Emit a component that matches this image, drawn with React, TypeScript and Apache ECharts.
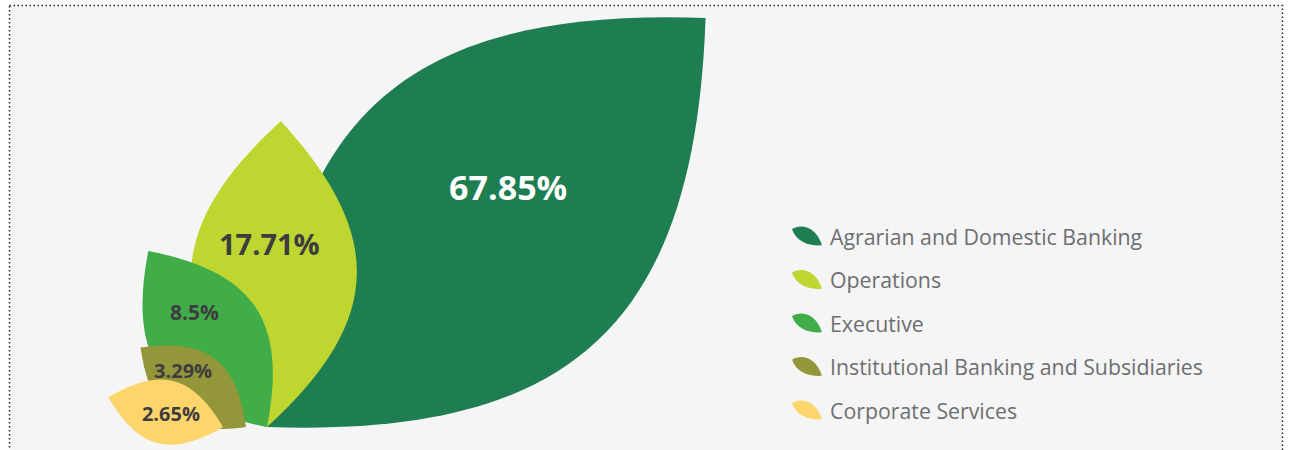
import React, { useEffect, useRef } from "react";
import * as echarts from "echarts";

// ---- data ----
const categories: string[] = [
  "Agrarian and Domestic Banking",
  "Operations",
  "Executive",
  "Institutional Banking and Subsidiaries",
  "Corporate Services",
];
const shares: number[] = [67.85, 17.71, 8.5, 3.29, 2.65];
const shareLabels: string[] = ["67.85%", "17.71%", "8.5%", "3.29%", "2.65%"];

// ---- styles / layout ----
const leafColors = ["#1f7d52", "#bed62f", "#41ad49", "#94963a", "#fed56a"];
const labelColors = ["#ffffff", "#3d3d3f", "#3d3d3f", "#3d3d3f", "#3d3d3f"];
const labelSizes = [34, 29, 21, 20, 20];
const leafAngles = [43, 87.4, 124, 143, 165.5]; // degrees, direction of leaf tip
const baseShiftX = [0, 0, 0, -21, -44]; // px offset of each leaf's stem
const labelFrac = [0.567, 0.6, 0.64, 0.64, 0.454];
const labelPerp = [-11, -6, 4, 7.6, 0];
const LEAF_ICON = "path://M1,4 C9,-1 23,1 29,19 C18,20 5,16 1,4 Z";
const LABEL_FONT = '"Open Sans", "Noto Sans", sans-serif';
const LEGEND_FONT = '"Open Sans", "Noto Sans", sans-serif';

function leafPath(bx: number, by: number, angDeg: number, L: number): string {
  const a = (angDeg * Math.PI) / 180;
  const ux = Math.cos(a);
  const uy = -Math.sin(a);
  const tx = bx + L * ux;
  const ty = by + L * uy;
  const h = 0.51 * L;
  const phi = Math.PI / 4;
  const rot = (x: number, y: number, t: number) => [
    x * Math.cos(t) - y * Math.sin(t),
    x * Math.sin(t) + y * Math.cos(t),
  ];
  const [d1x, d1y] = rot(ux, uy, phi);
  const [d2x, d2y] = rot(ux, uy, -phi);
  const f = (n: number) => n.toFixed(2);
  return (
    `M${f(bx)},${f(by)} ` +
    `C${f(bx + h * d1x)},${f(by + h * d1y)} ${f(tx - h * d2x)},${f(ty - h * d2y)} ${f(tx)},${f(ty)} ` +
    `C${f(tx - h * d1x)},${f(ty - h * d1y)} ${f(bx + h * d2x)},${f(by + h * d2y)} ${f(bx)},${f(by)} Z`
  );
}

function leafGeom(api: any, i: number, v: number) {
  const root = api.coord([0, 0]);
  const L = api.size([Math.sqrt(v), 0])[0];
  return { bx: root[0] + baseShiftX[i], by: root[1], L };
}

function makeLeafRender(i: number) {
  return (params: any, api: any) => {
    const { bx, by, L } = leafGeom(api, i, api.value(2));
    return {
      type: "path",
      shape: { pathData: leafPath(bx, by, leafAngles[i], L) },
      style: { fill: leafColors[i] },
    };
  };
}

function labelRender(params: any, api: any) {
  const i = params.dataIndex;
  const { bx, by, L } = leafGeom(api, i, api.value(2));
  const a = (leafAngles[i] * Math.PI) / 180;
  const ux = Math.cos(a);
  const uy = -Math.sin(a);
  const nx = Math.sin(a);
  const ny = Math.cos(a);
  const lx = bx + L * labelFrac[i] * ux + labelPerp[i] * nx;
  const ly = by + L * labelFrac[i] * uy + labelPerp[i] * ny;
  return {
    type: "text",
    x: lx,
    y: ly,
    style: {
      text: shareLabels[i],
      fill: labelColors[i],
      fontSize: labelSizes[i],
      fontWeight: "bold",
      fontFamily: LABEL_FONT,
      align: "center",
      verticalAlign: "middle",
    },
  };
}

export default function App() {
  const ref = useRef<HTMLDivElement>(null);
  useEffect(() => {
    if (!ref.current) return;
    const chart = echarts.init(ref.current, null, { renderer: "svg" });
    const option: any = {
      animation: false,
      backgroundColor: "#ffffff",
      graphic: [
        {
          type: "rect",
          z: 0,
          silent: true,
          shape: { x: 9.5, y: 5.5, width: 1273, height: 470 },
          style: { fill: "#f5f5f5", stroke: "#222", lineWidth: 1.5, lineDash: [1.5, 2.5] },
        },
      ],
      grid: { left: 267, right: 296, top: 20, bottom: 23 },
      xAxis: { type: "value", min: 0, max: 10, show: false },
      yAxis: { type: "value", min: 0, max: 10, show: false },
      legend: {
        orient: "vertical",
        left: 787,
        top: 220,
        itemWidth: 30,
        itemHeight: 19,
        itemGap: 21.5,
        selectedMode: false,
        data: categories.map((name, i) => ({
          name,
          icon: LEAF_ICON,
          itemStyle: { color: leafColors[i] },
        })),
        textStyle: {
          color: "#6d6e71",
          fontSize: 21.3,
          lineHeight: 22,
          fontFamily: LEGEND_FONT,
          padding: [0, 0, 0, 3],
        },
      },
      series: [
        ...categories.map((name, i) => ({
          type: "custom",
          name,
          coordinateSystem: "cartesian2d",
          clip: false,
          encode: { x: 0, y: 1 },
          itemStyle: { color: leafColors[i] },
          data: [[0, 0, shares[i]]],
          renderItem: makeLeafRender(i),
        })),
        {
          type: "custom",
          name: "labels",
          coordinateSystem: "cartesian2d",
          clip: false,
          z: 5,
          encode: { x: 0, y: 1 },
          data: shares.map((v) => [0, 0, v]),
          renderItem: labelRender,
        },
      ],
    };
    chart.setOption(option);
    return () => chart.dispose();
  }, []);
  return (
    <div
      ref={ref}
      style={{ position: "fixed", left: 0, top: 0, width: 1291, height: 450 }}
    />
  );
}
